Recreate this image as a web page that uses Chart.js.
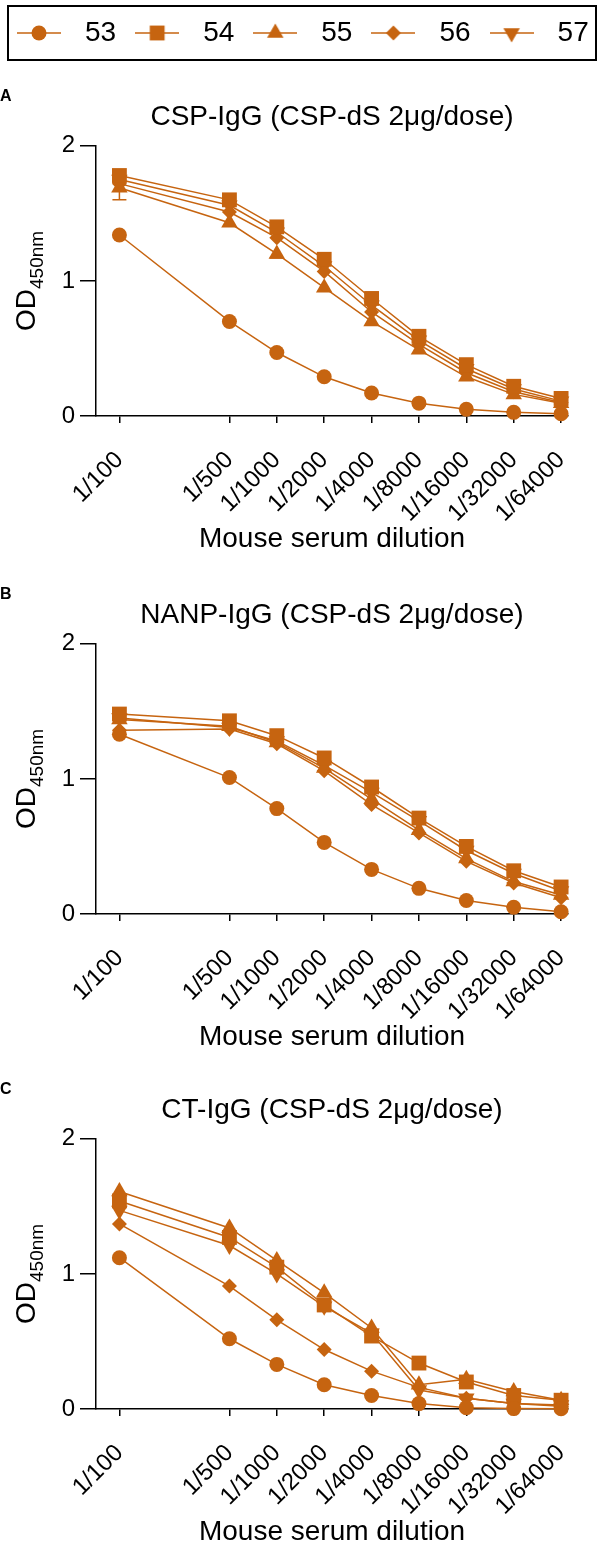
<!DOCTYPE html>
<html><head><meta charset="utf-8">
<script src="https://cdn.jsdelivr.net/npm/chart.js@4.4.1/dist/chart.umd.min.js"></script>
<style>
html,body{margin:0;padding:0;background:#fff;width:605px;height:1548px;overflow:hidden;position:relative}
canvas{position:absolute;left:0}
</style></head><body>
<canvas id="chartA" width="605" height="495" style="top:65px"></canvas>
<canvas id="chartB" width="605" height="495" style="top:563px"></canvas>
<canvas id="chartC" width="605" height="495" style="top:1058px"></canvas>
<canvas id="legend" width="605" height="140" style="top:0"></canvas>
<script>
// ---------- data ----------
const dilutions = [100, 500, 1000, 2000, 4000, 8000, 16000, 32000, 64000];
const tickLabels = ['1/100', '1/500', '1/1000', '1/2000', '1/4000', '1/8000', '1/16000', '1/32000', '1/64000'];
const seriesNames = ['53', '54', '55', '56', '57'];
const yTicks = [0, 1, 2];

const panelTitles = ['CSP-IgG (CSP-dS 2μg/dose)', 'NANP-IgG (CSP-dS 2μg/dose)', 'CT-IgG (CSP-dS 2μg/dose)'];
const panelLetters = ['A', 'B', 'C'];
const xAxisTitle = 'Mouse serum dilution';

// Panel A: CSP-IgG
const a53 = [1.34, 0.70, 0.47, 0.29, 0.17, 0.095, 0.05, 0.027, 0.017];
const a54 = [1.78, 1.60, 1.40, 1.16, 0.87, 0.59, 0.38, 0.22, 0.13];
const a55 = [1.69, 1.43, 1.20, 0.95, 0.70, 0.49, 0.29, 0.16, 0.095];
const a56 = [1.72, 1.51, 1.32, 1.07, 0.77, 0.53, 0.32, 0.18, 0.10];
const a57 = [1.75, 1.56, 1.36, 1.11, 0.82, 0.56, 0.35, 0.20, 0.11];
// lower ends of the visible error bars of series 55 in panel A
const a55ErrLow = [1.60, null, 1.17, null, null, null, null, null, null];
// Panel B: NANP-IgG
const b53 = [1.33, 1.01, 0.78, 0.53, 0.33, 0.19, 0.10, 0.05, 0.017];
const b54 = [1.48, 1.43, 1.32, 1.155, 0.94, 0.71, 0.50, 0.32, 0.20];
const b55 = [1.44, 1.39, 1.27, 1.08, 0.85, 0.62, 0.41, 0.24, 0.14];
const b56 = [1.36, 1.37, 1.26, 1.06, 0.81, 0.60, 0.39, 0.23, 0.12];
const b57 = [1.45, 1.38, 1.28, 1.10, 0.90, 0.69, 0.47, 0.30, 0.17];
// Panel C: CT-IgG
const c53 = [1.12, 0.52, 0.33, 0.18, 0.10, 0.04, 0.01, 0.003, 0.002];
const c54 = [1.54, 1.27, 1.05, 0.77, 0.54, 0.34, 0.20, 0.10, 0.065];
const c55 = [1.61, 1.34, 1.10, 0.86, 0.60, 0.18, 0.22, 0.13, 0.065];
const c56 = [1.37, 0.91, 0.66, 0.44, 0.28, 0.16, 0.08, 0.04, 0.02];
const c57 = [1.47, 1.21, 1.00, 0.76, 0.56, 0.14, 0.08, 0.04, 0.03];

const panels = [[a53, a54, a55, a56, a57], [b53, b54, b55, b56, b57], [c53, c54, c55, c56, c57]];
const panelErrLow = [[null, null, a55ErrLow, null, null], null, null];

// ---------- styling ----------
const COLOR = '#C66410';
const FONT = '"Liberation Sans", Arial, Helvetica, sans-serif';
const pointStyles = ['circle', 'rect', 'triangle', 'rectRot', 'triangle'];
const pointRotations = [0, 0, 0, 0, 180];
const pointRadii = [7.5, 10.5, 9.5, 7.5, 9.5];

// y-axis title with subscript (OD450nm)
const odTitle = {
  id: 'odTitle',
  afterDraw(chart) {
    const ctx = chart.ctx, ca = chart.chartArea;
    const cy = (ca.top + ca.bottom) / 2;
    const big = '28px ' + FONT, small = '19px ' + FONT;
    ctx.save();
    ctx.fillStyle = '#000';
    ctx.font = big; const w1 = ctx.measureText('OD').width;
    ctx.font = small; const w2 = ctx.measureText('450nm').width;
    ctx.translate(0, cy + (w1 + w2) / 2);
    ctx.rotate(-Math.PI / 2);
    ctx.textAlign = 'left'; ctx.textBaseline = 'alphabetic';
    ctx.font = big; ctx.fillText('OD', 0, 35);
    ctx.font = small; ctx.fillText('450nm', w1, 43);
    ctx.restore();
  }
};

// error bars (lower whiskers) drawn through the chart scales
const errorBars = {
  id: 'errorBars',
  afterDatasetsDraw(chart, args, opts) {
    const lows = opts.lows; if (!lows) return;
    const ctx = chart.ctx, xs = chart.scales.x, ys = chart.scales.y;
    ctx.save(); ctx.strokeStyle = COLOR; ctx.lineWidth = 1.5;
    lows.forEach((arr, di) => {
      if (!arr) return;
      const vals = panels[opts.panel][di];
      arr.forEach((lo, j) => {
        if (lo == null) return;
        const x = xs.getPixelForValue(dilutions[j]);
        const y0 = ys.getPixelForValue(vals[j]), y1 = ys.getPixelForValue(lo);
        ctx.beginPath(); ctx.moveTo(x, y0); ctx.lineTo(x, y1);
        ctx.moveTo(x - 7, y1); ctx.lineTo(x + 7, y1); ctx.stroke();
      });
    });
    ctx.restore();
  }
};

function makePanel(id, idx) {
  const series = panels[idx];
  new Chart(document.getElementById(id), {
    type: 'line',
    data: {
      datasets: series.map((vals, i) => ({
        label: seriesNames[i],
        data: vals.map((v, j) => ({x: dilutions[j], y: v})),
        borderColor: COLOR,
        backgroundColor: COLOR,
        borderWidth: 1.5,
        pointStyle: pointStyles[i],
        rotation: pointRotations[i],
        pointRadius: pointRadii[i],
        pointBorderWidth: 0,
        tension: 0,
        clip: false
      }))
    },
    options: {
      responsive: false, animation: false, devicePixelRatio: 1,
      layout: {padding: {left: 0, right: 37, top: 0, bottom: 0}},
      scales: {
        x: {
          type: 'logarithmic', min: 71, max: 70800,
          afterBuildTicks: (s) => { s.ticks = dilutions.map(v => ({value: v})); },
          afterFit: (s) => { s.height = 144; },
          grid: {drawOnChartArea: false, drawTicks: true, tickLength: 7, color: '#000', lineWidth: 1.5},
          border: {display: true, color: '#000', width: 1.5},
          ticks: {
            autoSkip: false, minRotation: 45, maxRotation: 45, padding: 23, color: '#000',
            font: {size: 24, family: FONT},
            callback: (v) => { const k = dilutions.indexOf(v); return k >= 0 ? tickLabels[k] : ''; }
          },
          title: {display: true, text: xAxisTitle, color: '#000', font: {size: 28, family: FONT}, padding: {top: 0, bottom: 4.2}}
        },
        y: {
          type: 'linear', min: 0, max: 2,
          afterBuildTicks: (s) => { s.ticks = yTicks.map(v => ({value: v})); },
          afterFit: (s) => { s.width = 96; },
          grid: {drawOnChartArea: false, drawTicks: true, tickLength: 16, color: '#000', lineWidth: 1.5},
          border: {display: true, color: '#000', width: 1.5},
          ticks: {padding: 5, color: '#000', font: {size: 24, family: FONT}}
        }
      },
      plugins: {
        legend: {display: false},
        tooltip: {enabled: false},
        errorBars: {lows: panelErrLow[idx], panel: idx},
        title: {display: true, text: panelLetters[idx], align: 'start', color: '#000',
          font: {size: 16, weight: 'bold', family: FONT, lineHeight: 1.2}, padding: {top: 21.7, bottom: 0}},
        subtitle: {display: true, text: panelTitles[idx], fullSize: false, align: 'center', color: '#000',
          font: {size: 28, family: FONT, lineHeight: 0.83}, padding: {top: 0, bottom: 16.66}}
      }
    },
    plugins: [odTitle, errorBars]
  });
}

// ---------- legend ----------
function drawMarker(g, i, x, y) {
  if (Chart.helpers && Chart.helpers.drawPoint) {
    Chart.helpers.drawPoint(g, {pointStyle: pointStyles[i], radius: pointRadii[i], rotation: pointRotations[i], borderWidth: 0}, x, y);
  }
}
function makeIcon(i) {
  const c = document.createElement('canvas'); c.width = 44; c.height = 22;
  const g = c.getContext('2d');
  g.strokeStyle = COLOR; g.fillStyle = COLOR; g.lineWidth = 1.5;
  g.beginPath(); g.moveTo(0, 11); g.lineTo(44, 11); g.stroke();
  drawMarker(g, i, 22, 11);
  return c;
}
const icons = seriesNames.map((n, i) => makeIcon(i));
const legendBorder = {
  id: 'legendBorder',
  afterDraw(chart) {
    const ctx = chart.ctx; ctx.save();
    ctx.strokeStyle = '#000'; ctx.lineWidth = 2; ctx.strokeRect(8, 6, 588, 54);
    ctx.restore();
  }
};
new Chart(document.getElementById('legend'), {
  type: 'line',
  data: {datasets: seriesNames.map((n, i) => ({label: n, data: [], borderColor: COLOR, backgroundColor: COLOR, pointStyle: icons[i]}))},
  options: {
    responsive: false, animation: false, devicePixelRatio: 1,
    layout: {padding: {top: 10, left: -2, right: 0}},
    scales: {x: {display: false}, y: {display: false}},
    plugins: {
      tooltip: {enabled: false},
      legend: {
        display: true, position: 'top', align: 'start',
        labels: {
          usePointStyle: true, pointStyleWidth: 64, padding: 9, color: '#000',
          font: {size: 28, family: FONT},
          generateLabels: (chart) => chart.data.datasets.map((d, i) => ({
            text: d.label, pointStyle: icons[i], fillStyle: COLOR, strokeStyle: COLOR,
            lineWidth: 0, hidden: false, datasetIndex: i, fontColor: '#000'
          }))
        }
      }
    }
  },
  plugins: [legendBorder]
});

makePanel('chartA', 0);
makePanel('chartB', 1);
makePanel('chartC', 2);
</script>
</body></html>
